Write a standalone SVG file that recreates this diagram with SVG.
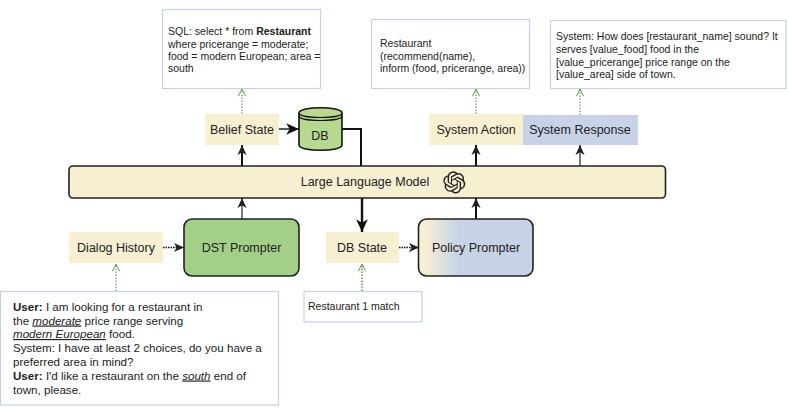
<svg xmlns="http://www.w3.org/2000/svg" width="789" height="409" viewBox="0 0 789 409">
<style>
text{font-family:"Liberation Sans",Arial,sans-serif;fill:#222}
.l{font-size:12.5px}
.s{font-size:10.5px}
.m{font-size:11.6px}
.cream{fill:#f7efd2}
.box{fill:#fff;stroke:#c5d2e8;stroke-width:1.2}
.p{stroke:#222;stroke-width:1.6}
.c{fill:none;stroke:#111;stroke-width:2}
.t{fill:none;stroke:#222;stroke-width:1.2}
.d{fill:none;stroke:#111;stroke-width:1.6;stroke-dasharray:1.5 1}
.g{fill:none;stroke:#4f8a3c;stroke-width:1;stroke-dasharray:1.5 1.5}
</style>
<defs>
<marker id="a" viewBox="0 0 12 12" refX="11" refY="6" markerWidth="11" markerHeight="11" markerUnits="userSpaceOnUse" orient="auto"><path d="M0 1 L11 6 L0 11 L3 6Z" fill="#222"/></marker>
<marker id="b" viewBox="0 0 12 12" refX="11" refY="6" markerWidth="14" markerHeight="14" markerUnits="userSpaceOnUse" orient="auto"><path d="M0 1 L11 6 L0 11 L3 6Z" fill="#111"/></marker>
<marker id="o" viewBox="0 0 10 10" refX="9" refY="5" markerWidth="9" markerHeight="9" markerUnits="userSpaceOnUse" orient="auto"><path d="M1 1 L9 5 L1 9" fill="none" stroke="#4f8a3c"/></marker>
<linearGradient id="pg" x1="0" x2="1" y1="0" y2="0"><stop offset="0.05" stop-color="#f7efd2"/><stop offset="0.36" stop-color="#c7d2e7"/></linearGradient>
</defs>
<g id="connectors">
<path class="c" d="M242 166V145" marker-end="url(#a)"/>
<path class="c" style="stroke-width:1.4" d="M278 129H299" marker-end="url(#b)"/>
<path class="c" d="M342 129H361V166"/>
<path class="c" style="stroke-width:2.4" d="M362 198V232" marker-end="url(#b)"/>
<path class="c" d="M476 166V145" marker-end="url(#a)"/>
<path class="t" d="M580 166V145" marker-end="url(#a)"/>
<path class="t" d="M242 219V198" marker-end="url(#a)"/>
<path class="c" d="M476 219V198" marker-end="url(#a)"/>
<path class="d" d="M163 247.500H184" marker-end="url(#a)"/>
<path class="d" d="M399 247.500H419" marker-end="url(#a)"/>
<path class="g" d="M116 291V264" marker-end="url(#o)"/>
<path class="g" style="stroke-width:1.4" d="M362 291V264" marker-end="url(#o)"/>
<path class="g" d="M242 114V89" marker-end="url(#o)"/>
<path class="g" d="M476 114V89" marker-end="url(#o)"/>
<path class="g" d="M580 115V89" marker-end="url(#o)"/>
</g>
<g id="sql-box"><rect class="box" x="162.500" y="9.500" width="158" height="79"/>
<text class="s" x="168" y="35">SQL: select * from <tspan font-weight="bold">Restaurant</tspan></text>
<text class="s" x="168" y="47.500">where pricerange = moderate;</text>
<text class="s" x="168" y="60">food = modern European; area =</text>
<text class="s" x="168" y="72">south</text></g>
<g id="belief-state"><rect class="cream" x="205" y="114" width="74" height="31"/><text class="l" x="242" y="134" text-anchor="middle">Belief State</text></g>
<g id="db">
<path d="M299 113C299 106 342 106 342 113V145C342 152 299 152 299 145Z" fill="#b6d98f" stroke="#111" stroke-width="1.6"/>
<path d="M299 113C299 119 342 119 342 113M299 116C299 122 342 122 342 116" fill="none" stroke="#111" stroke-width="1.2"/>
<text class="l" x="320" y="140" text-anchor="middle">DB</text></g>
<g id="action-box"><rect class="box" x="371.500" y="19.500" width="158" height="69"/>
<text class="s" x="380" y="47">Restaurant</text>
<text class="s" x="380" y="60">(recommend(name),</text>
<text class="s" x="380" y="72">inform (food, pricerange, area))</text></g>
<g id="response-box"><rect class="box" x="550.500" y="20.500" width="235.500" height="68"/>
<text class="s" x="556" y="40">System: How does [restaurant_name] sound? It</text>
<text class="s" x="556" y="53">serves [value_food] food in the</text>
<text class="s" x="556" y="65.500">[value_pricerange] price range on the</text>
<text class="s" x="556" y="77.500">[value_area] side of town.</text></g>
<g id="system-action"><rect class="cream" x="429" y="114" width="94" height="31"/><text class="l" x="476" y="134" text-anchor="middle">System Action</text></g>
<g id="system-response"><rect x="523" y="115" width="115" height="30" fill="#c7d2e7"/><text class="l" x="580" y="134" text-anchor="middle">System Response</text></g>
<g id="llm"><rect class="cream p" x="69" y="166" width="596.500" height="32" rx="4"/>
<text class="l" x="365" y="186" text-anchor="middle">Large Language Model</text>
<path transform="translate(443.300 171.300) scale(0.92)" fill="#222" d="M22.2819 9.8211a5.9847 5.9847 0 0 0-.5157-4.9108 6.0462 6.0462 0 0 0-6.5098-2.9A6.0651 6.0651 0 0 0 4.9807 4.1818a5.9847 5.9847 0 0 0-3.9977 2.9 6.0462 6.0462 0 0 0 .7427 7.0966 5.98 5.98 0 0 0 .511 4.9107 6.051 6.051 0 0 0 6.5146 2.9001A5.9847 5.9847 0 0 0 13.2599 24a6.0557 6.0557 0 0 0 5.7718-4.2058 5.9894 5.9894 0 0 0 3.9977-2.9001 6.0557 6.0557 0 0 0-.7475-7.0729zm-9.022 12.6081a4.4755 4.4755 0 0 1-2.8764-1.0408l.1419-.0804 4.7783-2.7582a.7948.7948 0 0 0 .3927-.6813v-6.7369l2.02 1.1686a.071.071 0 0 1 .038.052v5.5826a4.504 4.504 0 0 1-4.4945 4.4944zm-9.6607-4.1254a4.4708 4.4708 0 0 1-.5346-3.0137l.142.0852 4.783 2.7582a.7712.7712 0 0 0 .7806 0l5.8428-3.3685v2.3324a.0804.0804 0 0 1-.0332.0615L9.74 19.9502a4.4992 4.4992 0 0 1-6.1408-1.6464zM2.3408 7.8956a4.485 4.485 0 0 1 2.3655-1.9728V11.6a.7664.7664 0 0 0 .3879.6765l5.8144 3.3543-2.0201 1.1685a.0757.0757 0 0 1-.071 0l-4.8303-2.7865A4.504 4.504 0 0 1 2.3408 7.872zm16.5963 3.8558L13.1038 8.364 15.1192 7.2a.0757.0757 0 0 1 .071 0l4.8303 2.7913a4.4944 4.4944 0 0 1-.6765 8.1042v-5.6772a.79.79 0 0 0-.407-.667zm2.0107-3.0231l-.142-.0852-4.7735-2.7818a.7759.7759 0 0 0-.7854 0L9.409 9.2297V6.8974a.0662.0662 0 0 1 .0284-.0615l4.8303-2.7866a4.4992 4.4992 0 0 1 6.6802 4.66zM8.3065 12.863l-2.02-1.1638a.0804.0804 0 0 1-.038-.0567V6.0742a4.4992 4.4992 0 0 1 7.3757-3.4537l-.142.0805L8.704 5.459a.7948.7948 0 0 0-.3927.6813zm1.0976-2.3654l2.602-1.4998 2.6069 1.4998v2.9994l-2.5974 1.4997-2.6067-1.4997Z"/></g>
<g id="dialog-history"><rect class="cream" x="69" y="232" width="94" height="31"/><text class="l" x="116" y="252" text-anchor="middle">Dialog History</text></g>
<g id="dst-prompter"><rect class="p" x="184" y="219" width="115" height="57" rx="8" fill="#a4cf88"/><text class="l" x="241.500" y="252" text-anchor="middle">DST Prompter</text></g>
<g id="db-state"><rect class="cream" x="326" y="232" width="73" height="31"/><text class="l" x="362" y="252" text-anchor="middle">DB State</text></g>
<g id="policy-prompter"><rect class="p" x="418.500" y="219" width="114.500" height="57" rx="8" fill="url(#pg)"/><text class="l" x="476" y="252" text-anchor="middle">Policy Prompter</text></g>
<g id="db-result"><rect class="box" x="304" y="291.500" width="118" height="30.500"/><text class="s" x="308" y="310">Restaurant 1 match</text></g>
<g id="dialog-box"><rect class="box" x="0.500" y="291.500" width="278" height="113.500"/>
<text class="m" x="13" y="310.500"><tspan font-weight="bold">User:</tspan> I am looking for a restaurant in</text>
<text class="m" x="13" y="324.500">the <tspan font-style="italic" text-decoration="underline">moderate</tspan> price range serving</text>
<text class="m" x="13" y="338"><tspan font-style="italic" text-decoration="underline">modern European</tspan> food.</text>
<text class="m" x="13" y="352">System:  I have at least 2 choices, do you have a</text>
<text class="m" x="13" y="366">preferred area in mind?</text>
<text class="m" x="13" y="379.500"><tspan font-weight="bold">User:</tspan> I'd like a restaurant on the <tspan font-style="italic" text-decoration="underline">south</tspan> end of</text>
<text class="m" x="13" y="394">town, please.</text></g>
</svg>
